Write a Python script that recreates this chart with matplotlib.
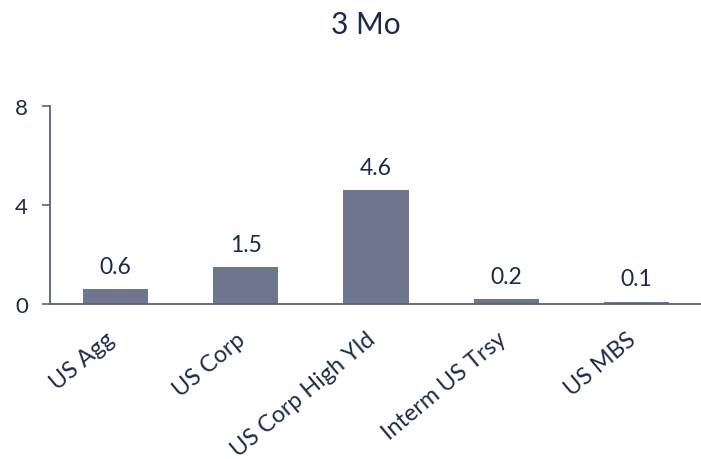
import matplotlib
matplotlib.use("Agg")
import matplotlib.pyplot as plt
import matplotlib.transforms as mtransforms

categories = ["US Agg", "US Corp", "US Corp High Yld", "Interm US Trsy", "US MBS"]
values = [0.6, 1.5, 4.6, 0.2, 0.1]
value_labels = ["0.6", "1.5", "4.6", "0.2", "0.1"]
yticks = [0, 4, 8]
title = "3 Mo"

text_color = "#1c2a4a"
bar_color = "#6d758f"
spine_color = "#5c6275"

plt.rcParams['font.family'] = ['Lato', 'DejaVu Sans']

fig = plt.figure(figsize=(7.01, 4.6), dpi=100)
ax = fig.add_axes([0.0713, 0.337, 0.93, 0.43])

x = list(range(len(categories)))
ax.bar(x, values, width=0.5, color=bar_color, zorder=2)
for xi, v, lab in zip(x, values, value_labels):
    ax.text(xi, v + 0.5, lab, ha='center', va='bottom', fontsize=16.5, color=text_color)

ax.set_xlim(-0.5, 4.5)
ax.set_ylim(0, 8)
ax.set_yticks(yticks)
ax.set_yticklabels([str(t) for t in yticks], fontsize=16, color=text_color)
ax.set_xticks(x)
ax.set_xticklabels([""] * len(categories))
label_trans = ax.get_xaxis_transform() + mtransforms.ScaledTranslation(-0.10, -0.24, fig.dpi_scale_trans)
for xi, cat in zip(x, categories):
    ax.text(xi, 0, cat, transform=label_trans, rotation=40, ha='right', va='top',
            rotation_mode='anchor', fontsize=16.8, color=text_color, clip_on=False)
ax.tick_params(axis='x', length=0)
ax.tick_params(axis='y', length=6, width=1.2, color=spine_color, pad=10)
for s in ['top', 'right']:
    ax.spines[s].set_visible(False)
for s in ['left', 'bottom']:
    ax.spines[s].set_color(spine_color)
    ax.spines[s].set_linewidth(1.3)

fig.text(0.522, 0.946, title, ha='center', va='center', fontsize=21.5, color=text_color)

fig.savefig("out.png", dpi=100)
